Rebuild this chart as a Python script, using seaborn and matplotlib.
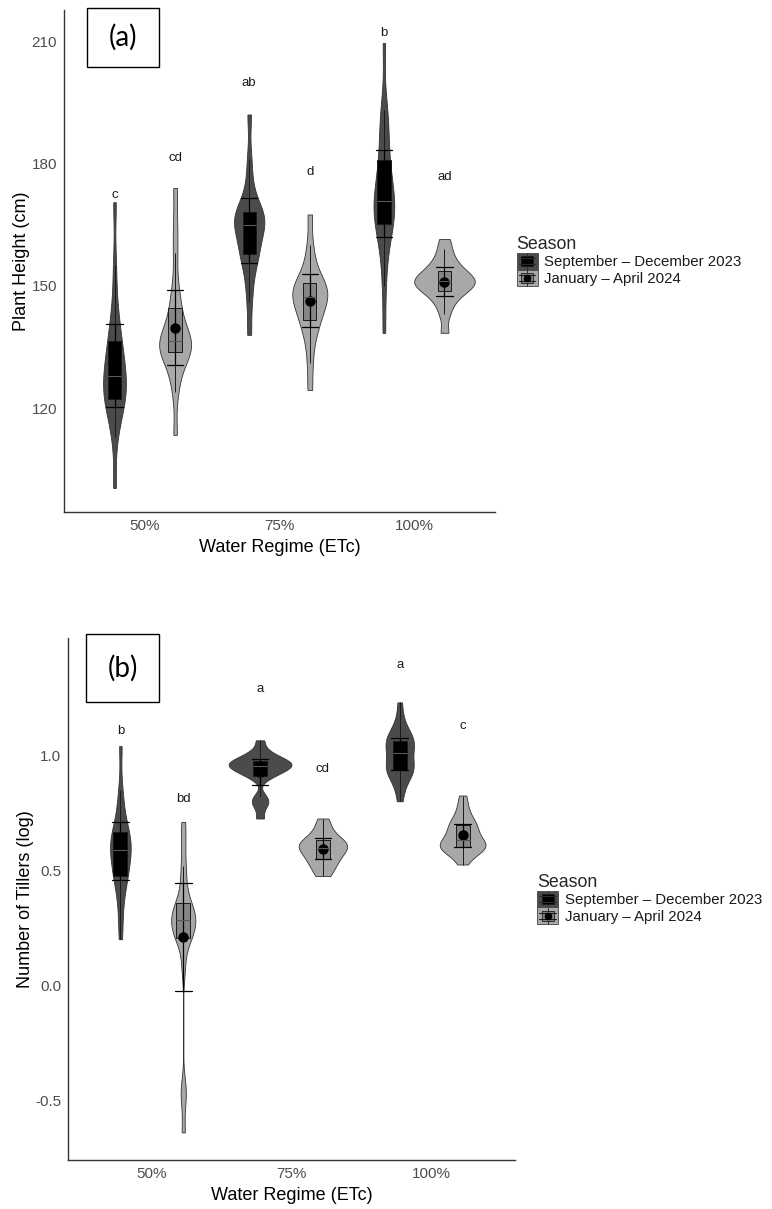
import matplotlib
matplotlib.use("Agg")
import numpy as np
import pandas as pd
import matplotlib.pyplot as plt
from matplotlib.patches import Rectangle, Patch
from matplotlib.lines import Line2D
from matplotlib.legend_handler import HandlerBase
from matplotlib.ticker import FormatStrFormatter
import seaborn as sns

# ---------------------------------------------------------------- data
regimes = ["50%", "75%", "100%"]
seasons = ["September – December 2023", "January – April 2024"]

# Plant height (cm) per plant
height_50_sep = [100.5, 113, 118, 120, 121.5, 122.5, 123.5, 125, 126.5, 127.5,
                 128.5, 130, 132, 134, 136, 138, 141, 146, 155, 170.5]
height_50_jan = [113.5, 124, 128, 131, 133, 134, 134.5, 135, 135.5, 136, 136.8, 137.5,
                 139, 141, 144, 146, 150, 158, 165, 174]
height_75_sep = [138, 146, 151, 155, 157, 158, 159.5, 161, 163, 164.5, 165.5, 166,
                 166.5, 167, 168, 168.5, 171, 175, 181, 192]
height_75_jan = [124.5, 131, 136, 139, 141, 142, 143.5, 145, 146, 147, 147.5, 148,
                 149, 150, 150.5, 151.5, 153, 156, 160, 167.5]
height_100_sep = [138.5, 150, 157, 162, 164, 165.5, 167, 168.5, 169.5, 170.5, 171, 172.5,
                  175, 178, 180, 183, 188, 191, 193, 209.5]
height_100_jan = [138.5, 143, 145.5, 147, 148, 149, 149.5, 150, 150.5, 151, 151.2, 151.8,
                  152.3, 153, 153.5, 154.5, 155.5, 157, 159, 161.5]

# Number of tillers (log10) per plant
tillers_50_sep = [0.2, 0.3, 0.38, 0.44, 0.477, 0.477, 0.5, 0.54, 0.57, 0.58, 0.6, 0.602,
                  0.62, 0.65, 0.66, 0.68, 0.72, 0.78, 0.85, 1.04]
tillers_50_jan = [-0.64, -0.50, -0.44, 0.08, 0.19, 0.21, 0.22, 0.24, 0.26, 0.28, 0.29,
                  0.301, 0.31, 0.33, 0.35, 0.38, 0.45, 0.52, 0.62, 0.71]
tillers_75_sep = [0.725, 0.778, 0.80, 0.82, 0.903, 0.915, 0.925, 0.935, 0.945, 0.95,
                  0.954, 0.958, 0.962, 0.968, 0.975, 0.982, 0.99, 1.0, 1.02, 1.065]
tillers_75_jan = [0.475, 0.49, 0.512, 0.53, 0.544, 0.551, 0.563, 0.576, 0.589, 0.595,
                  0.601, 0.608, 0.614, 0.62, 0.627, 0.639, 0.652, 0.671, 0.7, 0.725]
tillers_100_sep = [0.8, 0.86, 0.9, 0.92, 0.93, 0.94, 0.95, 0.955, 0.965, 0.99, 1.03, 1.04,
                   1.045, 1.05, 1.06, 1.075, 1.09, 1.11, 1.15, 1.23]
tillers_100_jan = [0.525, 0.565, 0.585, 0.595, 0.6, 0.602, 0.605, 0.608, 0.612, 0.62,
                   0.64, 0.655, 0.67, 0.685, 0.695, 0.70, 0.72, 0.745, 0.78, 0.825]

# Compact-letter display, ordered regime by regime (Sep–Dec first, then Jan–Apr)
height_letters = ["c", "cd", "ab", "d", "b", "ad"]
height_letter_y = [172.2, 181.3, 199.6, 178.0, 211.9, 176.7]
tiller_letters = ["b", "bd", "a", "cd", "a", "c"]
tiller_letter_y = [1.104, 0.809, 1.29, 0.942, 1.391, 1.127]


def long_frame(groups):
    rows = []
    for (reg, sea), vals in groups.items():
        rows += [(reg, sea, v) for v in vals]
    return pd.DataFrame(rows, columns=["regime", "season", "value"])


height_df = long_frame({
    ("50%", seasons[0]): height_50_sep, ("50%", seasons[1]): height_50_jan,
    ("75%", seasons[0]): height_75_sep, ("75%", seasons[1]): height_75_jan,
    ("100%", seasons[0]): height_100_sep, ("100%", seasons[1]): height_100_jan,
})
tiller_df = long_frame({
    ("50%", seasons[0]): tillers_50_sep, ("50%", seasons[1]): tillers_50_jan,
    ("75%", seasons[0]): tillers_75_sep, ("75%", seasons[1]): tillers_75_jan,
    ("100%", seasons[0]): tillers_100_sep, ("100%", seasons[1]): tillers_100_jan,
})


def nrd0(kde):
    """Silverman's rule of thumb (R's bw.nrd0) expressed as a gaussian_kde factor."""
    x = np.asarray(kde.dataset).ravel()
    sd = x.std(ddof=1)
    q75, q25 = np.percentile(x, [75, 25])
    lo = min(sd, (q75 - q25) / 1.34)
    return 0.9 * lo * len(x) ** -0.2 / sd


# ---------------------------------------------------------------- style
sns.set_theme(style="white")
plt.rcParams["font.family"] = ["Liberation Sans", "DejaVu Sans"]
plt.rcParams["axes.unicode_minus"] = False

VIOLIN = {seasons[0]: "#4b4b4b", seasons[1]: "#a8a8a8"}
BOX = {seasons[0]: "#000000", seasons[1]: "#868686"}
MEAN = {seasons[0]: "#000000", seasons[1]: "#000000"}
WIDTH = 0.9

W, H = 772, 1209


def px_rect(x0, y0, x1, y1):
    return [x0 / W, 1 - y1 / H, (x1 - x0) / W, (y1 - y0) / H]


class SeasonKey(HandlerBase):
    """Legend key combining violin, box, error bar and mean glyphs."""

    def __init__(self, fill, box, lines, show_mean):
        super().__init__()
        self.fill, self.box, self.lines, self.show_mean = fill, box, lines, show_mean

    def create_artists(self, legend, orig_handle, xdescent, ydescent,
                       width, height, fontsize, trans):
        x0, y0 = -xdescent, -ydescent
        xm = x0 + width / 2
        arts = [
            Rectangle((x0, y0), width, height, facecolor=self.fill,
                      edgecolor="#444444", lw=0.6, transform=trans),
            Line2D([xm, xm], [y0, y0 + height], color=self.lines, lw=0.6, transform=trans),
            Rectangle((x0 + 0.2 * width, y0 + 0.2 * height), 0.6 * width, 0.6 * height,
                      facecolor=self.box, edgecolor="#1a1a1a", lw=0.6, transform=trans),
        ]
        for fy in (0.32, 0.68):
            arts.append(Line2D([x0 + 0.1 * width, x0 + 0.9 * width], [y0 + fy * height] * 2,
                               color=self.lines, lw=0.8, transform=trans))
        if self.show_mean:
            arts.append(Line2D([xm], [y0 + height / 2], marker="o", ms=4.5, color="black",
                               ls="none", transform=trans))
        return arts


def draw_panel(ax, df, letters, letter_y, ylim, yticks, ylabel):
    common = dict(data=df, x="regime", y="value", hue="season", order=regimes,
                  hue_order=seasons, ax=ax, legend=False)
    sns.violinplot(**common, palette=VIOLIN, width=WIDTH, cut=0, inner=None,
                   density_norm="area", common_norm=True, bw_method=nrd0,
                   gridsize=256, linewidth=0.6, linecolor="#333333", saturation=1)
    sns.boxplot(**common, palette=BOX, width=WIDTH, gap=0.78, showfliers=False,
                linewidth=0.7, linecolor="#1a1a1a", saturation=1,
                medianprops=dict(color="#5a5a5a", linewidth=0.8),
                capprops=dict(linewidth=0))
    sns.pointplot(**common, palette=MEAN, estimator="mean", errorbar=("se", 3),
                  dodge=WIDTH / 2, linestyle="none", markers="o", markersize=5.5,
                  capsize=0.12, err_kws=dict(linewidth=0.9))

    # significance letters above each violin
    k = 0
    for i, _ in enumerate(regimes):
        for j, _ in enumerate(seasons):
            xpos = i + (j - 0.5) * WIDTH / 2
            ax.text(xpos, letter_y[k], letters[k], ha="center", va="center",
                    fontsize=9.5, color="#1a1a1a")
            k += 1

    ax.set_xlim(-0.6, len(regimes) - 0.4)
    ax.set_ylim(*ylim)
    ax.set_yticks(yticks)
    for side in ("top", "right"):
        ax.spines[side].set_visible(False)
    for side in ("left", "bottom"):
        ax.spines[side].set_color("#333333")
        ax.spines[side].set_linewidth(1.0)
    ax.tick_params(axis="both", length=0, pad=5, labelsize=11, labelcolor="#4d4d4d")
    ax.set_xlabel("Water Regime (ETc)", fontsize=13, color="black", labelpad=4)
    ax.set_ylabel(ylabel, fontsize=13, color="black", labelpad=1)

    h_sep, h_jan = Patch(), Patch()
    leg = ax.legend(
        [h_sep, h_jan], seasons, title="Season",
        handler_map={h_sep: SeasonKey(VIOLIN[seasons[0]], BOX[seasons[0]], "#2a2a2a", False),
                     h_jan: SeasonKey(VIOLIN[seasons[1]], BOX[seasons[1]], "#1a1a1a", True)},
        loc="center left", bbox_to_anchor=(1.05, 0.5), frameon=False,
        fontsize=10.8, title_fontsize=12.8, handlelength=1.4, handleheight=1.35,
        handletextpad=0.45, labelspacing=0.0, borderpad=0, borderaxespad=0,
        alignment="left")
    for t in leg.get_texts():
        t.set_color("#1a1a1a")


fig = plt.figure(figsize=(W / 100, H / 100), dpi=100)
ax_a = fig.add_axes(px_rect(64, 10, 495, 512))
ax_b = fig.add_axes(px_rect(68, 638, 515, 1160))

draw_panel(ax_a, height_df, height_letters, height_letter_y,
           (94.6, 217.6), [120, 150, 180, 210], "Plant Height (cm)")
draw_panel(ax_b, tiller_df, tiller_letters, tiller_letter_y,
           (-0.76, 1.51), [-0.5, 0.0, 0.5, 1.0], "Number of Tillers (log)")
ax_a.yaxis.set_major_formatter(FormatStrFormatter("%d"))
ax_b.yaxis.set_major_formatter(FormatStrFormatter("%.1f"))

# panel tags in framed boxes
for tag, (x0, y0, x1, y1) in (("(a)", (87, 8, 159, 67)), ("(b)", (86, 634, 159, 702))):
    fig.add_artist(Rectangle((x0 / W, 1 - y1 / H), (x1 - x0) / W, (y1 - y0) / H,
                             transform=fig.transFigure, facecolor="white",
                             edgecolor="black", lw=1.0, zorder=5))
    fig.text((x0 + x1) / 2 / W, 1 - (y0 + y1) / 2 / H, tag, ha="center", va="center",
             fontsize=20, family=["Lato", "DejaVu Sans"], color="black", zorder=6)

fig.savefig("out.png", dpi=100, facecolor="white")
